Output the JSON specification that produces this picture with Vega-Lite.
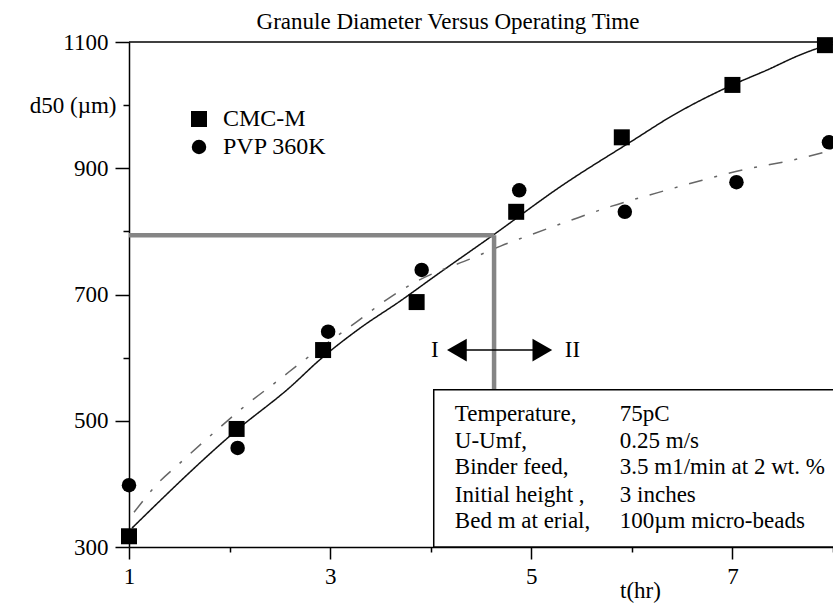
{
  "$schema": "https://vega.github.io/schema/vega-lite/v6.json",
  "width": 704,
  "height": 505,
  "autosize": {"type": "none"},
  "padding": {"left": 129, "top": 42, "right": 0, "bottom": 56},
  "background": "white",
  "config": {
    "view": {"stroke": null},
    "font": "Liberation Serif",
    "text": {"font": "Liberation Serif", "fontSize": 23, "color": "black"}
  },
  "title": {
    "text": "Granule Diameter Versus Operating Time",
    "font": "Liberation Serif",
    "fontSize": 23,
    "fontWeight": "normal",
    "color": "black",
    "anchor": "middle",
    "dx": -33,
    "dy": 23,
    "baseline": "alphabetic",
    "offset": 2
  },
  "datasets": {
    "points": [
      {"series": "CMC-M", "t": 1.0, "d": 317},
      {"series": "CMC-M", "t": 2.07, "d": 487},
      {"series": "CMC-M", "t": 2.93, "d": 612},
      {"series": "CMC-M", "t": 3.86, "d": 688},
      {"series": "CMC-M", "t": 4.85, "d": 831},
      {"series": "CMC-M", "t": 5.9, "d": 949},
      {"series": "CMC-M", "t": 7.0, "d": 1032},
      {"series": "CMC-M", "t": 7.92, "d": 1095},
      {"series": "PVP 360K", "t": 1.0, "d": 398},
      {"series": "PVP 360K", "t": 2.08, "d": 457},
      {"series": "PVP 360K", "t": 2.98, "d": 641},
      {"series": "PVP 360K", "t": 3.91, "d": 739},
      {"series": "PVP 360K", "t": 4.88, "d": 865},
      {"series": "PVP 360K", "t": 5.93, "d": 831},
      {"series": "PVP 360K", "t": 7.04, "d": 878},
      {"series": "PVP 360K", "t": 7.96, "d": 941}
    ],
    "curves": [
      {"fit": "CMC-M fit", "t": 1.03, "d": 330},
      {"fit": "CMC-M fit", "t": 2.07, "d": 485},
      {"fit": "CMC-M fit", "t": 2.6, "d": 553},
      {"fit": "CMC-M fit", "t": 2.9, "d": 597},
      {"fit": "CMC-M fit", "t": 3.3, "d": 647},
      {"fit": "CMC-M fit", "t": 3.7, "d": 690},
      {"fit": "CMC-M fit", "t": 4.05, "d": 730},
      {"fit": "CMC-M fit", "t": 4.62, "d": 794},
      {"fit": "CMC-M fit", "t": 5.3, "d": 872},
      {"fit": "CMC-M fit", "t": 6.0, "d": 943},
      {"fit": "CMC-M fit", "t": 6.4, "d": 983},
      {"fit": "CMC-M fit", "t": 7.0, "d": 1032},
      {"fit": "CMC-M fit", "t": 7.35, "d": 1056},
      {"fit": "CMC-M fit", "t": 7.65, "d": 1078},
      {"fit": "CMC-M fit", "t": 7.85, "d": 1090},
      {"fit": "CMC-M fit", "t": 8.0, "d": 1096},
      {"fit": "PVP 360K fit", "t": 1.05, "d": 355},
      {"fit": "PVP 360K fit", "t": 1.3, "d": 403},
      {"fit": "PVP 360K fit", "t": 1.5, "d": 432},
      {"fit": "PVP 360K fit", "t": 1.8, "d": 475},
      {"fit": "PVP 360K fit", "t": 2.15, "d": 523},
      {"fit": "PVP 360K fit", "t": 2.5, "d": 566},
      {"fit": "PVP 360K fit", "t": 2.7, "d": 591},
      {"fit": "PVP 360K fit", "t": 3.25, "d": 655},
      {"fit": "PVP 360K fit", "t": 3.6, "d": 696},
      {"fit": "PVP 360K fit", "t": 3.85, "d": 720},
      {"fit": "PVP 360K fit", "t": 4.45, "d": 760},
      {"fit": "PVP 360K fit", "t": 4.7, "d": 777},
      {"fit": "PVP 360K fit", "t": 4.95, "d": 792},
      {"fit": "PVP 360K fit", "t": 5.4, "d": 818},
      {"fit": "PVP 360K fit", "t": 5.8, "d": 840},
      {"fit": "PVP 360K fit", "t": 6.25, "d": 861},
      {"fit": "PVP 360K fit", "t": 6.7, "d": 881},
      {"fit": "PVP 360K fit", "t": 7.15, "d": 899},
      {"fit": "PVP 360K fit", "t": 7.6, "d": 913},
      {"fit": "PVP 360K fit", "t": 8.0, "d": 929}
    ],
    "guides": [
      {"t1": 1, "t2": 4.63, "d1": 794, "d2": 794},
      {"t1": 4.63, "t2": 4.63, "d1": 794, "d2": 549}
    ],
    "conditions": [
      {"k": "Temperature,", "v": "75pC", "d": 499},
      {"k": "U-Umf,", "v": "0.25 m/s", "d": 457},
      {"k": "Binder feed,", "v": "3.5 m1/min at 2 wt. %", "d": 415},
      {"k": "Initial height ,", "v": " 3 inches", "d": 372},
      {"k": "Bed m at erial,", "v": "100µm micro-beads", "d": 330}
    ],
    "regimes": [
      {"label": "I", "t": 4.04, "tip": 4.26, "shape": "triangle-left"},
      {"label": "II", "t": 5.41, "tip": 5.11, "shape": "triangle-right"}
    ]
  },
  "encoding": {
    "x": {
      "type": "quantitative",
      "scale": {"domain": [1, 8], "nice": false, "zero": false}
    },
    "y": {
      "type": "quantitative",
      "scale": {"domain": [300, 1100], "nice": false, "zero": false}
    }
  },
  "layer": [
    {
      "data": {"values": [{"top": 1100}]},
      "mark": {"type": "rule", "color": "black", "strokeWidth": 1.5},
      "encoding": {"y": {"field": "top", "type": "quantitative"}}
    },
    {
      "data": {"name": "curves"},
      "mark": {"type": "line", "interpolate": "monotone", "strokeWidth": 1.5},
      "encoding": {
        "x": {
          "field": "t",
          "type": "quantitative",
          "axis": {
            "values": [1, 2, 3, 4, 5, 6, 7, 8],
            "format": "d",
            "labelExpr": "datum.value % 2 == 1 ? datum.label : ''",
            "tickSize": {"condition": {"test": "datum.value % 2 == 1", "value": 12}, "value": 5},
            "tickColor": "black",
            "tickWidth": 1.5,
            "domainColor": "black",
            "domainWidth": 1.5,
            "labelFont": "Liberation Serif",
            "labelFontSize": 23,
            "labelColor": "black",
            "labelPadding": 6,
            "labelFlush": false,
            "labelOverlap": false,
            "grid": false,
            "title": "t(hr)",
            "titleFont": "Liberation Serif",
            "titleFontSize": 23,
            "titleFontWeight": "normal",
            "titleColor": "black",
            "titleX": 511,
            "titleY": 43,
            "titleBaseline": "middle",
            "titleAlign": "center"
          }
        },
        "y": {
          "field": "d",
          "type": "quantitative",
          "axis": {
            "values": [300, 400, 500, 600, 700, 800, 900, 1000, 1100],
            "format": "d",
            "labelExpr": "datum.value == 1000 ? 'd50 (µm)' : (datum.value % 200 == 100 ? datum.label : '')",
            "tickSize": {"condition": {"test": "datum.value % 200 == 100", "value": 14}, "value": 6},
            "tickColor": "black",
            "tickWidth": 1.5,
            "domainColor": "black",
            "domainWidth": 1.5,
            "labelFont": "Liberation Serif",
            "labelFontSize": 23,
            "labelColor": "black",
            "labelPadding": 7,
            "labelFlush": false,
            "labelOverlap": false,
            "grid": false,
            "title": null
          }
        },
        "detail": {"field": "fit"},
        "color": {
          "field": "fit",
          "type": "nominal",
          "scale": {"domain": ["CMC-M fit", "PVP 360K fit"], "range": ["#111111", "#666666"]},
          "legend": null
        },
        "strokeDash": {
          "field": "fit",
          "type": "nominal",
          "scale": {"domain": ["CMC-M fit", "PVP 360K fit"], "range": [[1, 0], [14, 12, 3, 12]]},
          "legend": null
        }
      }
    },
    {
      "data": {"name": "guides"},
      "mark": {"type": "rule", "color": "#858585", "strokeWidth": 4.5},
      "encoding": {
        "x": {"field": "t1", "type": "quantitative"},
        "x2": {"field": "t2"},
        "y": {"field": "d1", "type": "quantitative"},
        "y2": {"field": "d2"}
      }
    },
    {
      "data": {"values": [{"box": "conditions"}]},
      "mark": {"type": "rect", "fill": "white", "stroke": "black", "strokeWidth": 1.5},
      "encoding": {
        "x": {"datum": 4.03, "type": "quantitative"},
        "x2": {"datum": 8.3},
        "y": {"datum": 549, "type": "quantitative"},
        "y2": {"datum": 300}
      }
    },
    {
      "data": {"name": "conditions"},
      "mark": {"type": "text", "align": "left", "baseline": "alphabetic", "fontSize": 23},
      "encoding": {
        "x": {"datum": 4.24, "type": "quantitative"},
        "y": {"field": "d", "type": "quantitative"},
        "text": {"field": "k"}
      }
    },
    {
      "data": {"name": "conditions"},
      "mark": {"type": "text", "align": "left", "baseline": "alphabetic", "fontSize": 23},
      "encoding": {
        "x": {"datum": 5.88, "type": "quantitative"},
        "y": {"field": "d", "type": "quantitative"},
        "text": {"field": "v"}
      }
    },
    {
      "data": {"values": [{"from": 4.29, "to": 5.08, "d": 612}]},
      "mark": {"type": "rule", "color": "black", "strokeWidth": 1.5},
      "encoding": {
        "x": {"field": "from", "type": "quantitative"},
        "x2": {"field": "to"},
        "y": {"field": "d", "type": "quantitative"}
      }
    },
    {
      "data": {"name": "regimes"},
      "mark": {"type": "point", "filled": true, "color": "black", "opacity": 1, "size": 520},
      "encoding": {
        "x": {"field": "tip", "type": "quantitative"},
        "y": {"datum": 612, "type": "quantitative"},
        "shape": {"field": "shape", "type": "nominal", "scale": null}
      }
    },
    {
      "data": {"name": "regimes"},
      "mark": {"type": "text", "align": "center", "baseline": "middle", "fontSize": 23},
      "encoding": {
        "x": {"field": "t", "type": "quantitative"},
        "y": {"datum": 612, "type": "quantitative"},
        "text": {"field": "label"}
      }
    },
    {
      "data": {"name": "points"},
      "mark": {"type": "point", "filled": true, "opacity": 1, "color": "black"},
      "encoding": {
        "x": {"field": "t", "type": "quantitative"},
        "y": {"field": "d", "type": "quantitative"},
        "shape": {
          "field": "series",
          "type": "nominal",
          "scale": {"domain": ["CMC-M", "PVP 360K"], "range": ["square", "circle"]},
          "legend": {
            "orient": "none",
            "legendX": 58,
            "legendY": 65,
            "title": null,
            "padding": 0,
            "symbolSize": 220,
            "symbolFillColor": "black",
            "symbolStrokeColor": "black",
            "labelFont": "Liberation Serif",
            "labelFontSize": 24,
            "labelColor": "black",
            "labelOffset": 12,
            "rowPadding": 4
          }
        },
        "size": {
          "field": "series",
          "type": "nominal",
          "scale": {"domain": ["CMC-M", "PVP 360K"], "range": [256, 210]},
          "legend": null
        }
      }
    }
  ]
}
